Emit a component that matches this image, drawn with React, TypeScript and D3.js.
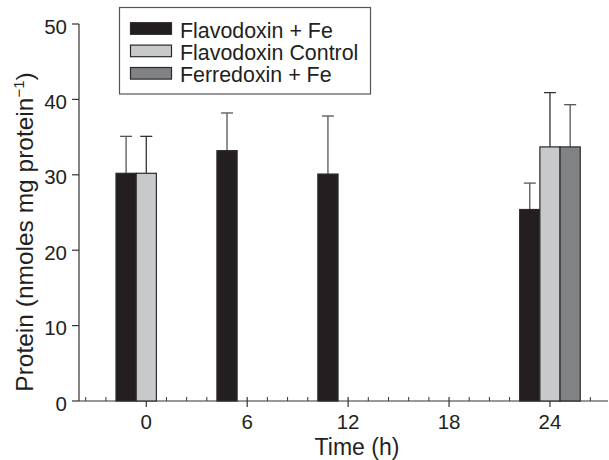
import React, { useRef, useEffect } from 'react';
import * as d3 from 'd3';

// time points (h)
const times = [0, 6, 12, 18, 24];
const seriesNames = ['Flavodoxin + Fe', 'Flavodoxin Control', 'Ferredoxin + Fe'];
const seriesColors = ['#231f20', '#c8c9cb', '#808285'];
const errColors = ['#555555', '#333333', '#555555'];

const flavFe = [30.2, 33.2, 30.1, null, 25.4];
const flavFeErr = [4.9, 5.0, 7.7, null, 3.5];
const flavCtrl = [30.2, null, null, null, 33.7];
const flavCtrlErr = [4.9, null, null, null, 7.2];
const ferrFe = [null, null, null, null, 33.7];
const ferrFeErr = [null, null, null, null, 5.6];

const yTicks = [0, 10, 20, 30, 40, 50];

const App = () => {
    const svgRef = useRef(null);
    const width = 609, height = 460;

    useEffect(() => {
        const svg = d3.select(svgRef.current);
        svg.selectAll('*').remove();

        const font = 'Liberation Sans, Arial, Helvetica, sans-serif';
        const ink = '#231f20';

        const x = d3.scaleLinear().domain([-4, 27.45]).range([79, 608]);
        const y = d3.scaleLinear().domain([0, 50]).range([401, 24]);
        const step = 1.2; // bar width and minor tick spacing in hours

        // y axis
        svg.append('line')
            .attr('x1', 79).attr('x2', 79)
            .attr('y1', y(0)).attr('y2', y(50))
            .attr('stroke', '#333').attr('stroke-width', 1.2);
        yTicks.forEach(t => {
            svg.append('line')
                .attr('x1', 72).attr('x2', 79)
                .attr('y1', y(t)).attr('y2', y(t))
                .attr('stroke', '#333').attr('stroke-width', 1.2);
            svg.append('text')
                .attr('x', 67).attr('y', y(t) + 9.5)
                .attr('text-anchor', 'end')
                .attr('font-family', font).attr('font-size', 20.5)
                .attr('fill', ink)
                .text(t);
        });

        // x axis
        svg.append('line')
            .attr('x1', 79).attr('x2', 608)
            .attr('y1', 401).attr('y2', 401)
            .attr('stroke', '#333').attr('stroke-width', 1.2);
        d3.range(-3, 23).forEach(k => {
            if (k % 5 === 0) return;
            const px = x(k * step);
            svg.append('line')
                .attr('x1', px).attr('x2', px)
                .attr('y1', 397).attr('y2', 401)
                .attr('stroke', '#333').attr('stroke-width', 1);
        });
        times.forEach(t => {
            svg.append('line')
                .attr('x1', x(t)).attr('x2', x(t))
                .attr('y1', 397).attr('y2', 407)
                .attr('stroke', '#333').attr('stroke-width', 1.2);
            svg.append('text')
                .attr('x', x(t)).attr('y', 429)
                .attr('text-anchor', 'middle')
                .attr('font-family', font).attr('font-size', 20.5)
                .attr('fill', ink)
                .text(t);
        });

        // bars + error bars
        const series = [
            {vals: flavFe, errs: flavFeErr, off: -step},
            {vals: flavCtrl, errs: flavCtrlErr, off: 0},
            {vals: ferrFe, errs: ferrFeErr, off: step}
        ];
        series.forEach((s, si) => {
            times.forEach((t, i) => {
                const v = s.vals[i];
                if (v == null) return;
                const cx = x(t + s.off);
                const x0 = x(t + s.off - step / 2), x1 = x(t + s.off + step / 2);
                const e = s.errs[i];
                if (e != null) {
                    svg.append('line')
                        .attr('x1', cx).attr('x2', cx)
                        .attr('y1', y(v)).attr('y2', y(v + e))
                        .attr('stroke', errColors[si]).attr('stroke-width', 1.3);
                    svg.append('line')
                        .attr('x1', cx - 6).attr('x2', cx + 6)
                        .attr('y1', y(v + e)).attr('y2', y(v + e))
                        .attr('stroke', errColors[si]).attr('stroke-width', 1.3);
                }
                svg.append('rect')
                    .attr('x', x0).attr('y', y(v))
                    .attr('width', x1 - x0).attr('height', y(0) - y(v))
                    .attr('fill', seriesColors[si])
                    .attr('stroke', '#2a2a2a').attr('stroke-width', 1.2);
            });
        });

        // legend
        svg.append('rect')
            .attr('x', 119.5).attr('y', 7.5)
            .attr('width', 251).attr('height', 86.5)
            .attr('fill', '#fff')
            .attr('stroke', '#555').attr('stroke-width', 1.2);
        seriesNames.forEach((name, i) => {
            const cy = 28.5 + i * 22.4;
            svg.append('rect')
                .attr('x', 130.5).attr('y', cy - 5.8)
                .attr('width', 41).attr('height', 11.6)
                .attr('fill', seriesColors[i])
                .attr('stroke', '#2a2a2a').attr('stroke-width', 1.2);
            svg.append('text')
                .attr('x', 180).attr('y', cy + 9)
                .attr('font-family', font).attr('font-size', 21.4)
                .attr('fill', ink)
                .text(name);
        });

        // axis titles
        svg.append('text')
            .attr('x', 357).attr('y', 455)
            .attr('text-anchor', 'middle')
            .attr('font-family', font).attr('font-size', 23)
            .attr('fill', ink)
            .text('Time (h)');

        const ylab = svg.append('text')
            .attr('transform', 'translate(33,232) rotate(-90)')
            .attr('text-anchor', 'middle')
            .attr('font-family', font).attr('font-size', 24.5)
            .attr('fill', ink);
        ylab.append('tspan').text('Protein (nmoles mg protein');
        ylab.append('tspan').attr('font-size', 15).attr('dy', -9).text('\u22121');
        ylab.append('tspan').attr('dy', 9).text(')');
    }, []);

    return (
        <div style={{position: 'absolute', left: 0, top: 0}}>
            <svg ref={svgRef} width={width} height={height} style={{display: 'block', background: '#fff'}} />
        </div>
    );
};

export default App;
